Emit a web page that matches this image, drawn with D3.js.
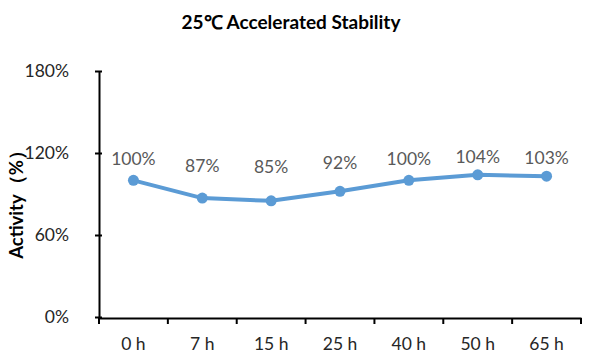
<!DOCTYPE html>
<html>
<head>
<meta charset="utf-8">
<script src="https://cdn.jsdelivr.net/npm/d3@7"></script>
<style>
  body { margin: 0; background: #fff; }
  text { font-family: Lato, "Open Sans", sans-serif; }
</style>
</head>
<body>
<script>
"use strict";

// chart data
let hours = ['0 h', '7 h', '15 h', '25 h', '40 h', '50 h', '65 h'];
let activity = [100, 87, 85, 92, 100, 104, 103];
let yTicks = [0, 60, 120, 180];

(function() {

let W = 591, H = 363;
let margins = {top: 71, right: 10, bottom: 45, left: 99};

let svg = d3.select('body')
    .append('svg')
    .attr('width', W)
    .attr('height', H);

let x = d3.scaleBand()
    .domain(hours)
    .range([margins.left, 581]);

let y = d3.scaleLinear()
    .domain([0, 180])
    .range([317, margins.top]);

// title
svg.append('text')
    .attr('x', 291)
    .attr('y', 29)
    .attr('text-anchor', 'middle')
    .attr('font-size', '19px')
    .attr('font-weight', 'bold')
    .attr('fill', '#000')
    .text('25℃ Accelerated Stability');

// y axis
let yAxis = svg.append('g')
    .attr('transform', 'translate(' + margins.left + ',0)')
    .call(d3.axisLeft(y).tickValues(yTicks)
        .tickFormat(function(d) { return d + '%'; })
        .tickSizeInner(4).tickSizeOuter(0).tickPadding(26));
yAxis.select('.domain').attr('stroke', '#000').attr('stroke-width', 2);
yAxis.selectAll('.tick line')
    .attr('x1', -4).attr('x2', 3)
    .attr('stroke', '#000').attr('stroke-width', 2);
yAxis.selectAll('.tick text')
    .attr('font-size', '17.5px')
    .attr('fill', '#262626')
    .attr('font-family', 'Lato, sans-serif');

// x axis
let xAxis = svg.append('g')
    .attr('transform', 'translate(0,318)')
    .call(d3.axisBottom(x).tickSize(0).tickPadding(20));
xAxis.select('.domain').attr('stroke', '#000').attr('stroke-width', 2);
xAxis.selectAll('.tick text')
    .attr('font-size', '17.5px')
    .attr('fill', '#262626')
    .attr('font-family', 'Lato, sans-serif');

// tick marks sit on the category boundaries
let bounds = hours.map(function(d) { return x(d); }).concat([x.range()[1]]);
svg.append('g')
    .selectAll('line')
    .data(bounds)
    .enter()
    .append('line')
    .attr('x1', function(d) { return d; })
    .attr('x2', function(d) { return d; })
    .attr('y1', 318)
    .attr('y2', 324)
    .attr('stroke', '#000')
    .attr('stroke-width', 2);

// y axis title
svg.append('text')
    .attr('transform', 'translate(23,200) rotate(-90)')
    .attr('text-anchor', 'middle')
    .attr('font-size', '18.5px')
    .attr('font-weight', 'bold')
    .attr('fill', '#000')
    .text('Activity（%）');

let cx = function(d, i) { return x(hours[i]) + x.bandwidth() / 2; };

let line = d3.line()
    .x(cx)
    .y(function(d) { return y(d); });

svg.append('path')
    .datum(activity)
    .attr('d', line)
    .attr('fill', 'none')
    .attr('stroke', '#5B9BD5')
    .attr('stroke-width', 4)
    .attr('stroke-linejoin', 'round');

svg.selectAll('.dot')
    .data(activity)
    .enter()
    .append('circle')
    .attr('class', 'dot')
    .attr('cx', cx)
    .attr('cy', function(d) { return y(d); })
    .attr('r', 5.5)
    .attr('fill', '#5B9BD5');

// data labels (sit a bit higher when the point dips)
svg.selectAll('.lbl')
    .data(activity)
    .enter()
    .append('text')
    .attr('class', 'lbl')
    .attr('x', cx)
    .attr('y', function(d) { return y(d) - 15 - (y(d) - y(100)) * 0.62; })
    .attr('text-anchor', 'middle')
    .attr('font-size', '17.5px')
    .attr('fill', '#595959')
    .text(function(d) { return d + '%'; });

})();
</script>
</body>
</html>
